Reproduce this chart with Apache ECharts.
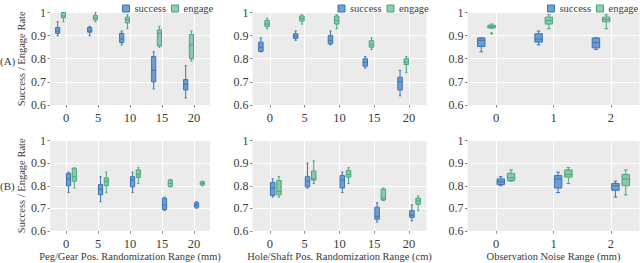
<!DOCTYPE html>
<html><head><meta charset="utf-8">
<script src="https://cdn.jsdelivr.net/npm/echarts@6/dist/echarts.min.js"></script>
<style>html,body{margin:0;padding:0;background:#fff}#c{width:640px;height:263px}</style>
</head><body><div id="c"></div>
<script>
// ---- tick labels / categories ----
const pegRange = ['0', '5', '10', '15', '20'];
const holeRange = ['0', '5', '10', '15', '20'];
const noiseRange = ['0', '1', '2'];
const yTicks = [0.6, 0.7, 0.8, 0.9, 1.0];
const seriesNames = ['success', 'engage'];

// ---- box data: [whiskerLow, q1, median, q3, whiskerHigh] ----
// Row (A)
const A_peg_success = [[0.90,0.91,0.92,0.935,0.96],[0.90,0.915,0.92,0.935,0.94],[0.86,0.87,0.885,0.91,0.92],[0.67,0.70,0.75,0.81,0.83],[0.63,0.665,0.69,0.71,0.77]];
const A_peg_engage  = [[0.96,0.977,0.985,1.0,1.0],[0.96,0.968,0.977,0.988,1.0],[0.93,0.955,0.97,0.98,0.99],[0.85,0.855,0.91,0.925,0.94],[0.79,0.80,0.86,0.905,0.92]];
const A_hole_success = [[0.83,0.832,0.85,0.872,0.89],[0.88,0.888,0.898,0.908,0.92],[0.86,0.865,0.88,0.90,0.92],[0.76,0.768,0.785,0.80,0.81],[0.64,0.665,0.70,0.72,0.75]];
const A_hole_engage  = [[0.93,0.94,0.95,0.965,0.975],[0.95,0.963,0.973,0.985,0.99],[0.93,0.95,0.965,0.985,0.99],[0.84,0.85,0.86,0.878,0.89],[0.74,0.775,0.785,0.80,0.81]];
const A_noise_success = [[0.83,0.853,0.88,0.89,0.89],[0.86,0.872,0.885,0.908,0.92],[0.84,0.847,0.87,0.89,0.89]];
const A_noise_engage  = [[0.932,0.933,0.94,0.945,0.95],[0.93,0.95,0.965,0.98,0.99],[0.93,0.96,0.97,0.98,0.99]];
const A_noise_engage_outliers = [[0, 0.91]];
// Row (B)
const B_peg_success = [[0.77,0.80,0.83,0.855,0.86],[0.73,0.76,0.785,0.805,0.84],[0.77,0.795,0.825,0.84,0.86],[0.69,0.695,0.715,0.745,0.75],[0.70,0.705,0.715,0.725,0.73]];
const B_peg_engage  = [[0.79,0.82,0.84,0.878,0.878],[0.77,0.80,0.82,0.835,0.86],[0.81,0.837,0.85,0.87,0.88],[0.795,0.797,0.81,0.825,0.828],[0.80,0.803,0.81,0.818,0.82]];
const B_hole_success = [[0.75,0.757,0.79,0.815,0.83],[0.79,0.795,0.82,0.84,0.90],[0.77,0.79,0.825,0.845,0.86],[0.64,0.652,0.665,0.705,0.725],[0.645,0.66,0.67,0.69,0.715]];
const B_hole_engage  = [[0.75,0.76,0.775,0.823,0.84],[0.81,0.825,0.83,0.865,0.91],[0.81,0.838,0.85,0.868,0.88],[0.735,0.737,0.745,0.785,0.79],[0.69,0.718,0.733,0.745,0.755]];
const B_noise_success = [[0.80,0.805,0.818,0.83,0.84],[0.77,0.79,0.83,0.845,0.86],[0.75,0.78,0.80,0.81,0.82]];
const B_noise_engage  = [[0.82,0.823,0.835,0.855,0.87],[0.81,0.838,0.85,0.87,0.88],[0.76,0.80,0.83,0.85,0.87]];

// ---- styles / layout ----
const FONT = 'Liberation Serif';
const TXT = '#3a3a3a';
const COL = {
  success: {fill: 'rgba(74,134,196,0.78)', stroke: '#3b74b2'},
  engage:  {fill: 'rgba(104,190,150,0.75)', stroke: '#4aa57c'}
};
const BOX_W = 0.13; // in category units
const OFFS = {A: {success: -0.26, engage: -0.08}, B: {success: 0.08, engage: 0.26}};
const cols = [{left: 50, width: 160}, {left: 252.5, width: 174}, {left: 467.5, width: 172}];
const rows = [{top: 12.5, height: 92.5}, {top: 140.5, height: 90.5}];
const xNames = ['Peg/Gear Pos. Randomization Range (mm)', 'Hole/Shaft Pos. Randomization Range (cm)', 'Observation Noise Range (mm)'];

const panels = [
  {row: 0, col: 0, cats: pegRange, s: A_peg_success, e: A_peg_engage},
  {row: 0, col: 1, cats: holeRange, s: A_hole_success, e: A_hole_engage},
  {row: 0, col: 2, cats: noiseRange, s: A_noise_success, e: A_noise_engage, eOut: A_noise_engage_outliers},
  {row: 1, col: 0, cats: pegRange, s: B_peg_success, e: B_peg_engage},
  {row: 1, col: 1, cats: holeRange, s: B_hole_success, e: B_hole_engage},
  {row: 1, col: 2, cats: noiseRange, s: B_noise_success, e: B_noise_engage}
];

function padCats(cats) {
  const out = ['pad0'];
  cats.forEach((c, i) => { out.push(c); out.push('pad' + (i + 1)); });
  return out;
}
const isReal = (idx) => idx % 2 === 1;

function boxRenderer(offset, col) {
  return function (params, api) {
    const xi = api.value(0);
    const band = api.size([1, 0])[0] * 2;
    const cx = api.coord([xi, 0.8])[0] + offset * band;
    const w = BOX_W * band;
    const y = (d) => api.coord([xi, api.value(d)])[1];
    const lo = y(1), q1 = y(2), md = y(3), q3 = y(4), hi = y(5);
    const cw = w * 0.5;
    const ls = {stroke: col.stroke, lineWidth: 1};
    return {type: 'group', children: [
      {type: 'line', shape: {x1: cx, y1: lo, x2: cx, y2: q1}, style: ls},
      {type: 'line', shape: {x1: cx, y1: q3, x2: cx, y2: hi}, style: ls},
      {type: 'line', shape: {x1: cx - cw / 2, y1: lo, x2: cx + cw / 2, y2: lo}, style: ls},
      {type: 'line', shape: {x1: cx - cw / 2, y1: hi, x2: cx + cw / 2, y2: hi}, style: ls},
      {type: 'rect', shape: {x: cx - w / 2, y: q3, width: w, height: Math.max(q1 - q3, 1)}, style: {fill: col.fill, stroke: col.stroke, lineWidth: 1}},
      {type: 'line', shape: {x1: cx - w / 2, y1: md, x2: cx + w / 2, y2: md}, style: {stroke: col.stroke, lineWidth: 1}}
    ]};
  };
}
function outlierRenderer(offset, col) {
  return function (params, api) {
    const xi = api.value(0);
    const band = api.size([1, 0])[0] * 2;
    const p = api.coord([xi, api.value(1)]);
    return {type: 'circle', shape: {cx: p[0] + offset * band, cy: p[1], r: 1.3}, style: {fill: col.stroke}};
  };
}

const grid = [], xAxis = [], yAxis = [], series = [];
panels.forEach((p, k) => {
  const c = cols[p.col], r = rows[p.row];
  grid.push({left: c.left, top: r.top, width: c.width, height: r.height, show: true,
    backgroundColor: '#ebebeb', borderWidth: 0, containLabel: false});
  xAxis.push({
    type: 'category', gridIndex: k, data: padCats(p.cats), boundaryGap: false,
    axisLine: {show: false},
    axisTick: {show: true, length: 2.5, interval: (i) => isReal(i), lineStyle: {color: '#888'}},
    axisLabel: {interval: (i) => isReal(i), margin: 6, fontFamily: FONT, fontSize: 12.5, color: TXT},
    splitLine: {show: true, interval: (i) => isReal(i), lineStyle: {color: '#ffffff', width: 1}},
    name: p.row === 1 ? xNames[p.col] : '', nameLocation: 'middle', nameGap: 20,
    nameTextStyle: {fontFamily: FONT, fontSize: 10.5, color: TXT}
  });
  yAxis.push({
    type: 'value', gridIndex: k, min: yTicks[0], max: yTicks[yTicks.length - 1], interval: 0.1,
    axisLine: {show: false},
    axisTick: {show: true, length: 2.5, lineStyle: {color: '#888'}},
    axisLabel: {margin: 4, fontFamily: FONT, fontSize: 12, color: TXT,
      formatter: (v) => (Math.abs(v - 1) < 1e-9 ? '1' : v.toFixed(1))},
    splitLine: {show: true, lineStyle: {color: '#ffffff', width: 1}},
    name: p.col === 0 ? 'Success / Engage Rate' : '', nameLocation: 'middle', nameGap: 19,
    nameTextStyle: {fontFamily: FONT, fontSize: 10.5, color: TXT}
  });
  const rowKey = p.row === 0 ? 'A' : 'B';
  [['success', p.s], ['engage', p.e]].forEach(([nm, arr]) => {
    series.push({
      type: 'custom', name: nm, xAxisIndex: k, yAxisIndex: k,
      itemStyle: {color: COL[nm].fill, borderColor: COL[nm].stroke, borderWidth: 1},
      dimensions: ['x', 'low', 'q1', 'med', 'q3', 'high'],
      encode: {x: 0, y: [1, 2, 3, 4, 5]},
      renderItem: boxRenderer(OFFS[rowKey][nm], COL[nm]),
      data: arr.map((v, i) => [2 * i + 1].concat(v))
    });
  });
  if (p.eOut) {
    series.push({
      type: 'custom', name: 'engage', xAxisIndex: k, yAxisIndex: k,
      itemStyle: {color: COL.engage.fill, borderColor: COL.engage.stroke, borderWidth: 1},
      encode: {x: 0, y: 1},
      renderItem: outlierRenderer(OFFS[rowKey].engage, COL.engage),
      data: p.eOut.map((o) => [2 * o[0] + 1, o[1]])
    });
  }
});

const legendLefts = [122, 337.5, 547];
const legend = legendLefts.map((l) => ({
  left: l, top: -2, width: 140, orient: 'horizontal', itemWidth: 7, itemHeight: 7, itemGap: 5,
  icon: 'rect', selectedMode: false, padding: [5, 0, 5, 0],
  textStyle: {fontFamily: FONT, fontSize: 10.5, color: TXT},
  data: seriesNames.map((n) => ({name: n, itemStyle: {color: COL[n].fill, borderColor: COL[n].stroke, borderWidth: 1}}))
}));

const chart = echarts.init(document.getElementById('c'), null, {renderer: 'svg'});
chart.setOption({
  animation: false,
  backgroundColor: '#ffffff',
  grid, xAxis, yAxis, series, legend,
  graphic: [
    {type: 'text', left: 0, top: 55, style: {text: '(A)', font: '11px Liberation Serif', fill: TXT}},
    {type: 'text', left: 0, top: 180, style: {text: '(B)', font: '11px Liberation Serif', fill: TXT}}
  ]
});
</script>
</body></html>
